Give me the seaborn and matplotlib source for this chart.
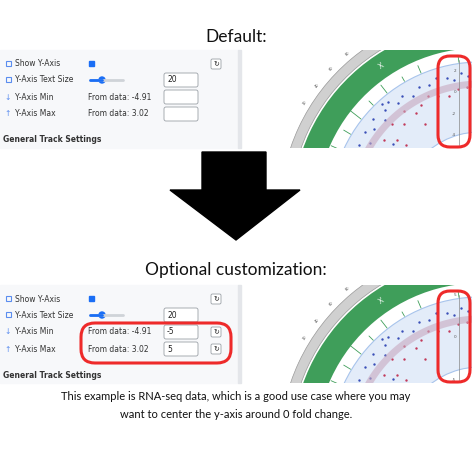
import numpy as np
import matplotlib
matplotlib.use("Agg")
import matplotlib.pyplot as plt
import seaborn as sns
from matplotlib.patches import Rectangle, FancyBboxPatch, Wedge, Polygon, Circle

sns.set_theme(style="white")
plt.rcParams['font.family'] = ['Lato', 'DejaVu Sans']

# values shown in the settings panel
text_size = "20"
data_min, data_max = -4.91, 3.02
custom_min, custom_max = "-5", "5"
default_ticks = [2, 0, -2, -4]
custom_ticks = [5, 0, -5]

# scatter points of the RNA-seq track (angle in degrees, radius in px)
blue_ang = [200, 203, 206, 209, 212, 215, 218, 221, 224, 227, 230, 233, 236, 240, 244, 248, 252, 256, 259, 262, 265, 268, 218, 228]
blue_rad = [128, 134, 124, 138, 130, 140, 135, 142, 132, 139, 143, 136, 140, 134, 139, 137, 141, 138, 134, 140, 137, 133, 110, 146]
red_ang = [201, 205, 209, 213, 217, 221, 225, 229, 233, 237, 241, 246, 250, 255, 260, 264, 268, 222, 238]
red_rad = [118, 112, 122, 114, 120, 110, 124, 116, 126, 118, 122, 127, 123, 120, 125, 126, 122, 100, 104]
spike_ang = [198, 204, 211, 218, 225, 232, 240, 247, 254, 262]
spike_len = [22, 12, 8, 14, 6, 10, 5, 8, 4, 6]
ring_ticks = ["20", "40", "60", "80", "100", "120"]

fig = plt.figure(figsize=(4.72, 4.62), dpi=100)
ax = fig.add_axes([0, 0, 1, 1])
ax.set_xlim(0, 472)
ax.set_ylim(462, 0)
ax.axis('off')

ui = ['DejaVu Sans']


def panel(y0, custom):
    ax.add_patch(Rectangle((0, y0), 238, 98, color='#f7f8fa', zorder=0))
    ax.add_patch(Rectangle((238, y0), 3, 98, color='#e4e6ea', zorder=0))
    rows = [("Show Y-Axis", 14), ("Y-Axis Text Size", 30), ("Y-Axis Min", 47), ("Y-Axis Max", 64)]
    for i, (lab, dy) in enumerate(rows):
        y = y0 + dy
        if i < 2:
            ax.add_patch(Rectangle((6, y - 3), 5, 5, fill=False, ec='#5b8def', lw=0.8))
        else:
            ax.text(8, y, "↓" if i == 2 else "↑", color='#5b8def', fontsize=5.5, ha='center', va='center', family=ui)
        ax.text(15, y, lab, fontsize=5.5, va='center', color='#333333', family=ui)
    ax.add_patch(Rectangle((89, y0 + 11), 5, 5, color='#1a6ef5'))
    ax.plot([90, 123], [y0 + 30, y0 + 30], color='#cfd3d8', lw=2, solid_capstyle='round')
    ax.plot([90, 102], [y0 + 30, y0 + 30], color='#1a6ef5', lw=2, solid_capstyle='round')
    ax.add_patch(Circle((102, y0 + 30), 3, color='#1a6ef5'))
    ax.text(88, y0 + 47, f"From data: {data_min}", fontsize=5.5, va='center', color='#333333', family=ui)
    ax.text(88, y0 + 64, f"From data: {data_max}", fontsize=5.5, va='center', color='#333333', family=ui)
    vals = [text_size, custom_min if custom else "", custom_max if custom else ""]
    for dy, v in zip([30, 47, 64], vals):
        ax.add_patch(FancyBboxPatch((164, y0 + dy - 7), 34, 14, boxstyle="round,pad=0,rounding_size=2",
                                    fc='white', ec='#9aa0a6', lw=0.6))
        ax.text(167, y0 + dy, v, fontsize=5.5, va='center', color='#222222', family=ui)
    btn_rows = [14, 47, 64] if custom else [14]
    for dy in btn_rows:
        ax.add_patch(FancyBboxPatch((211, y0 + dy - 5), 10, 10, boxstyle="round,pad=0,rounding_size=1.5",
                                    fc='white', ec='#9aa0a6', lw=0.6))
        ax.text(216, y0 + dy, "↻", fontsize=5, ha='center', va='center', family=ui)
    ax.text(3, y0 + 90, "General Track Settings", fontsize=5.5, va='center', weight='bold', color='#333333', family=ui)
    if custom:
        ax.add_patch(FancyBboxPatch((81, y0 + 38), 150, 40, boxstyle="round,pad=0,rounding_size=14",
                                    fill=False, ec='#ee2a2a', lw=2.2, zorder=6))

    # circos part
    clip = Rectangle((243, y0), 229, 98, transform=ax.transData)
    cx, cy = 480, y0 + 162
    parts = [Wedge((cx, cy), 200, 180, 280, width=10, fc='#d0d0d0', ec='#999999', lw=0.5),
             Wedge((cx, cy), 188, 180, 280, width=24, fc='#3f9e5a', ec='none'),
             Wedge((cx, cy), 150, 180, 280, width=70, fc='#e3ecf9', ec='#a8c4ec', lw=0.8)]
    for p in parts:
        ax.add_patch(p)
        p.set_clip_path(clip)
    for k, lab in enumerate(ring_ticks):
        a = np.deg2rad(212 + k * 6)
        x, y = cx + 206 * np.cos(a), cy + 206 * np.sin(a)
        if y0 + 4 < y < y0 + 96:
            ax.text(x, y, lab, fontsize=2.5, ha='center', va='center', rotation=60 - k * 6,
                    color='#444444', family=ui)
    for a, l in zip(spike_ang, spike_len):
        t = np.deg2rad(a)
        ln, = ax.plot([cx + 151 * np.cos(t), cx + (151 + l) * np.cos(t)],
                      [cy + 151 * np.sin(t), cy + (151 + l) * np.sin(t)], color='#3f9e5a', lw=0.6)
        ln.set_clip_path(clip)
    tt = np.deg2rad(np.linspace(190, 275, 60))
    band, = ax.plot(cx + 128 * np.cos(tt), cy + 128 * np.sin(tt), color='#c8a9c0', lw=5, alpha=0.6)
    band.set_clip_path(clip)
    for angs, rads, col in [(blue_ang, blue_rad, '#3a4fb8'), (red_ang, red_rad, '#c23a5a')]:
        t = np.deg2rad(angs)
        sc = ax.scatter(cx + np.array(rads) * np.cos(t), cy + np.array(rads) * np.sin(t), s=3, color=col, lw=0)
        sc.set_clip_path(clip)
    ax.text(cx + 176 * np.cos(np.deg2rad(236)), cy + 176 * np.sin(np.deg2rad(236)), "X", color='white',
            fontsize=5, ha='center', va='center', rotation=34)
    # y-axis of the track
    ax.plot([459, 459], [y0 + 10, y0 + 95], color='#888888', lw=0.5)
    ticks = custom_ticks if custom else default_ticks
    lo, hi = (-5, 5) if custom else (data_min, data_max)
    for tk in ticks:
        y = y0 + 95 - (tk - lo) / (hi - lo) * 85
        ax.text(456, y, str(tk), fontsize=3, ha='right', va='center', color='#555555', family=ui)
    ax.add_patch(FancyBboxPatch((438, y0 + 6), 32, 91, boxstyle="round,pad=0,rounding_size=12",
                                fill=False, ec='#ee2a2a', lw=2.2, zorder=6))


ax.text(236, 37, "Default:", fontsize=12.5, ha='center', va='center', color='#111111')
panel(50, False)
ax.add_patch(Polygon([[202, 152], [266, 152], [266, 190], [300, 190], [236, 240], [170, 190], [202, 190]],
                     color='black'))
ax.text(236, 270, "Optional customization:", fontsize=12.5, ha='center', va='center', color='#111111')
panel(285, True)
ax.text(236, 397, "This example is RNA-seq data, which is a good use case where you may", fontsize=8,
        ha='center', va='center', color='#111111')
ax.text(236, 415, "want to center the y-axis around 0 fold change.", fontsize=8,
        ha='center', va='center', color='#111111')

fig.savefig("out.png", dpi=100)
